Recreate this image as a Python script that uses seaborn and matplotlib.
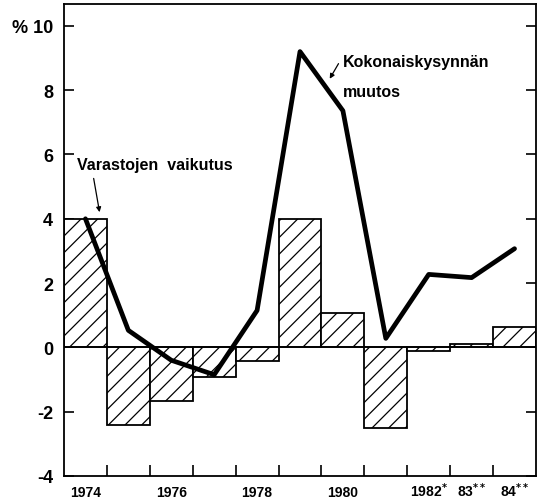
import numpy as np
import matplotlib
matplotlib.use("Agg")
import matplotlib.pyplot as plt
import seaborn as sns

# data
years = ["1974", "1975", "1976", "1977", "1978", "1979",
         "1980", "1981", "1982", "1983", "1984"]
inventory_effect = [4.0, -2.42, -1.68, -0.93, -0.43, 4.0,
                    1.06, -2.52, -0.12, 0.12, 0.62]
demand_change = [4.0, 0.53, -0.4, -0.85, 1.15, 9.2,
                 7.36, 0.28, 2.27, 2.17, 3.07]
xtick_labels = ["1974", "1976", "1978", "1980",
                "1982$^{*}$", "83$^{**}$", "84$^{**}$"]
xtick_years = ["1974", "1976", "1978", "1980", "1982", "1983", "1984"]
yticks = [-4, -2, 0, 2, 4, 6, 8, 10]
ytick_labels = ["-4", "-2", "0", "2", "4", "6", "8", "% 10"]

sns.set_style("white")
plt.rcParams["font.family"] = ["Liberation Sans", "DejaVu Sans"]
plt.rcParams["font.weight"] = "bold"
plt.rcParams["text.color"] = "black"
plt.rcParams["xtick.color"] = "black"
plt.rcParams["ytick.color"] = "black"
plt.rcParams["mathtext.default"] = "bf"
plt.rcParams["hatch.linewidth"] = 0.9

fig = plt.figure(figsize=(5.41, 5.02), dpi=100)
ax = fig.add_axes([64 / 541, 25 / 502, 472 / 541, 472 / 502])

sns.barplot(x=years, y=inventory_effect, color="white", edgecolor="black",
            linewidth=1.3, width=1.0, saturation=1, ax=ax)
for p in ax.patches:
    p.set_facecolor("white")
    p.set_hatch("//")

pos = np.arange(len(years))
sns.lineplot(x=pos, y=demand_change, color="black", linewidth=3.4, ax=ax)

ax.axhline(0, color="black", linewidth=1.2)
ax.set_xlim(-0.5, len(years) - 0.5)
ax.set_ylim(-4, 10.68)

ax.set_yticks(yticks)
ax.set_yticklabels(ytick_labels, fontsize=13, fontweight="bold")
ax.set_xticks([years.index(y) for y in xtick_years])
ax.set_xticklabels(xtick_labels, fontsize=10, fontweight="bold")
for lab in ax.get_xticklabels():
    lab.set_verticalalignment("baseline")
ax.set_xticks(pos[:-1] + 0.5, minor=True)
ax.tick_params(axis="x", which="major", length=0, pad=14.5)
ax.tick_params(axis="x", which="minor", direction="in", length=8,
               width=1.2, bottom=True)
ax.tick_params(axis="y", direction="in", length=7, width=1.2,
               left=True, right=True, pad=8)
ax.set_xlabel("")
ax.set_ylabel("")
for s in ax.spines.values():
    s.set_visible(True)
    s.set_color("black")
    s.set_linewidth(1.3)

# annotations
ax.text(-0.2, 5.7, "Varastojen  vaikutus", fontsize=11.5, fontweight="bold",
        va="center", ha="left")
ax.annotate("", xy=(0.34, 4.12), xytext=(0.18, 5.34),
            arrowprops=dict(arrowstyle="-|>", color="black", lw=0.9,
                            mutation_scale=7))
ax.text(6.0, 8.88, "Kokonaiskysynnän", fontsize=11.5, fontweight="bold",
        va="center", ha="left")
ax.text(6.0, 7.95, "muutos", fontsize=11.5, fontweight="bold",
        va="center", ha="left")
ax.annotate("", xy=(5.66, 8.28), xytext=(5.93, 8.9),
            arrowprops=dict(arrowstyle="-|>", color="black", lw=0.9,
                            mutation_scale=7))

fig.savefig("out.png", dpi=100)
